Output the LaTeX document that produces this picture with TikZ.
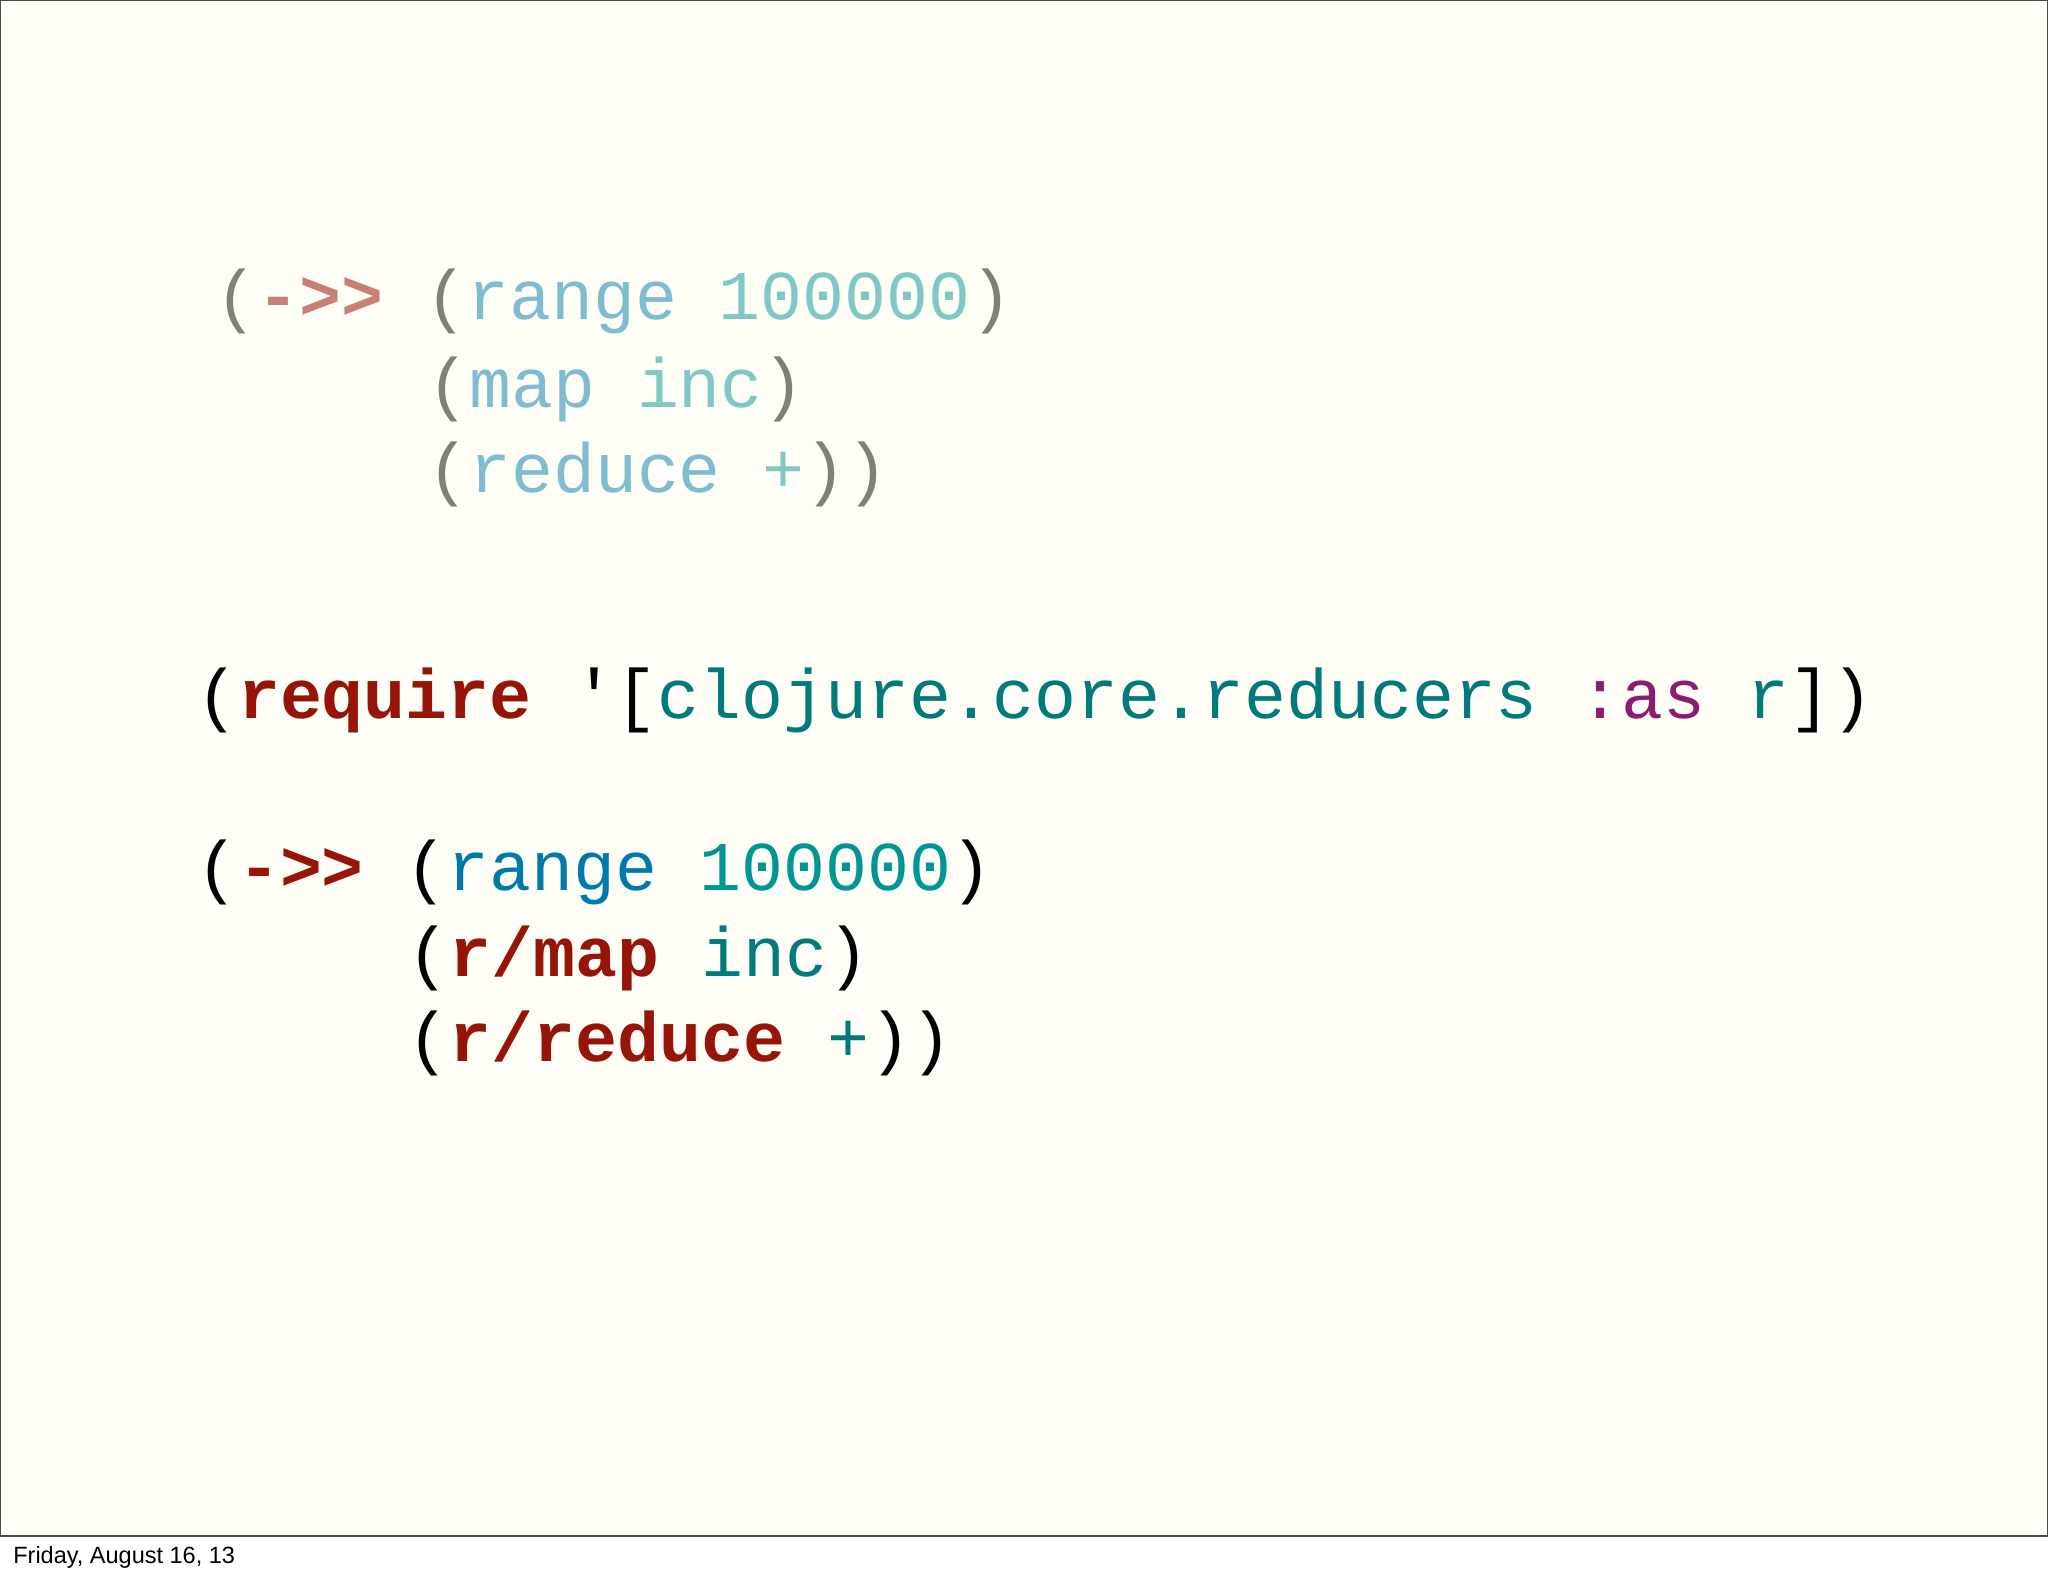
\documentclass[tikz,border=0pt]{standalone}
\usepackage{fontspec}
\setmainfont{Liberation Sans}
\setmonofont{Liberation Mono}
\definecolor{bg}{RGB}{255,254,246}
\definecolor{lpar}{RGB}{128,128,118}
\definecolor{larr}{RGB}{200,128,118}
\definecolor{lblue}{RGB}{128,188,208}
\definecolor{lteal}{RGB}{128,200,198}
\definecolor{dred}{RGB}{150,20,8}
\definecolor{dteal}{RGB}{0,122,122}
\definecolor{dpurp}{RGB}{140,28,110}
\definecolor{dblue}{RGB}{0,122,170}
\definecolor{dnum}{RGB}{0,150,150}
\begin{document}
\begin{tikzpicture}[x=1pt,y=-1pt,
  code/.style={anchor=base west,inner sep=0pt,font=\fontsize{53.5}{60}\ttfamily}]
\useasboundingbox (0,0) rectangle (1568,1206);
\fill[white] (0,0) rectangle (1568,1206);
\fill[bg] (0,0) rectangle (1568,1176);
\draw[line width=1pt,black!70] (0.5,0.5) rectangle (1567.5,1176);
\node[code] (l1) at (165,245) {\textcolor{lpar}{(}\textcolor{larr}{\bfseries ->>}\ \textcolor{lpar}{(}\textcolor{lblue}{range}\ \textcolor{lteal}{100000}\textcolor{lpar}{)}};
\node[code] (l2) at (327,312) {\textcolor{lpar}{(}\textcolor{lblue}{map}\ \textcolor{lteal}{inc}\textcolor{lpar}{)}};
\node[code] (l3) at (327,377) {\textcolor{lpar}{(}\textcolor{lblue}{reduce}\ \textcolor{lteal}{+}\textcolor{lpar}{))}};
\node[code] (r0) at (150,550) {(\textcolor{dred}{\bfseries require}\ '[\textcolor{dteal}{clojure.core.reducers}\ \textcolor{dpurp}{:as}\ \textcolor{dteal}{r}])};
\node[code] (m1) at (150,682) {(\textcolor{dred}{\bfseries ->>}\ (\textcolor{dblue}{range}\ \textcolor{dnum}{100000})};
\node[code] (m2) at (312,748) {(\textcolor{dred}{\bfseries r/map}\ \textcolor{dteal}{inc})};
\node[code] (m3) at (312,813) {(\textcolor{dred}{\bfseries r/reduce}\ \textcolor{dteal}{+}))};
\node[anchor=base west,inner sep=0pt,font=\fontsize{18}{20}\selectfont] (ft) at (10,1197) {Friday, August 16, 13};
\end{tikzpicture}
\end{document}
